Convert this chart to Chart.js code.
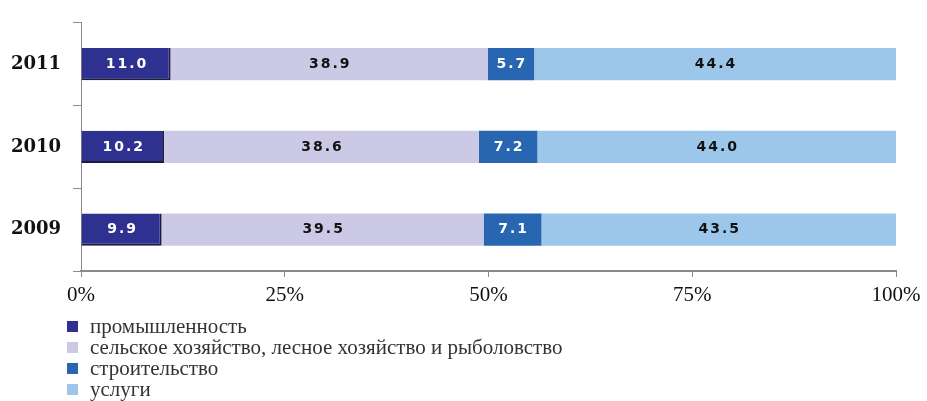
<!DOCTYPE html>
<html>
<head>
<meta charset="utf-8">
<script src="https://cdn.jsdelivr.net/npm/chart.js@4/dist/chart.umd.min.js"></script>
<style>
  html, body { margin: 0; padding: 0; background: #fff; }
  #wrap { position: relative; width: 927px; height: 401px; }
  #legend { position: absolute; left: 67px; top: 316px; font-family: "Liberation Serif", serif; font-size: 21px; color: #333; }
  #legend .item { display: flex; align-items: center; height: 21px; }
  #legend .box { width: 11px; height: 11px; margin-right: 12px; }
</style>
</head>
<body>
<div id="wrap">
  <canvas id="chart" width="927" height="401"></canvas>
  <div id="legend"></div>
</div>
<script>
const years = ['2011', '2010', '2009'];
const seriesNames = [
  'промышленность',
  'сельское хозяйство, лесное хозяйство и рыболовство',
  'строительство',
  'услуги'
];
const industry = [11.0, 10.2, 9.9];
const agriculture = [38.9, 38.6, 39.5];
const construction = [5.7, 7.2, 7.1];
const services = [44.4, 44.0, 43.5];
const xTicks = [0, 25, 50, 75, 100];

const colors = ['#2e3190', '#ccc9e7', '#2966b1', '#9dc7ea'];
const labelColors = ['#ffffff', '#111111', '#ffffff', '#111111'];

// value labels in the middle of each segment
const valueLabels = {
  id: 'valueLabels',
  afterDatasetsDraw(chart) {
    const ctx = chart.ctx;
    ctx.save();
    ctx.font = 'bold 14px "DejaVu Sans"';
    if ('letterSpacing' in ctx) ctx.letterSpacing = '2px';
    ctx.textAlign = 'center';
    ctx.textBaseline = 'middle';
    chart.data.datasets.forEach((ds, i) => {
      const meta = chart.getDatasetMeta(i);
      meta.data.forEach((bar, j) => {
        ctx.fillStyle = labelColors[i];
        ctx.fillText(ds.data[j].toFixed(1), (bar.x + bar.base) / 2 + 1, bar.y);
      });
    });
    ctx.restore();
  }
};

const seriesData = [industry, agriculture, construction, services];

const chart = new Chart(document.getElementById('chart'), {
  type: 'bar',
  data: {
    labels: years,
    datasets: seriesData.map((d, i) => ({
      label: seriesNames[i],
      data: d,
      backgroundColor: colors[i],
      borderColor: '#1b1b45',
      borderWidth: i === 0 ? { right: 2, bottom: 2, top: 0, left: 0 } : 0,
      barPercentage: 0.39,
      categoryPercentage: 1
    }))
  },
  options: {
    indexAxis: 'y',
    responsive: false,
    animation: false,
    layout: { padding: { top: 0, right: 31, bottom: 91, left: 0 } },
    plugins: {
      legend: { display: false },
      tooltip: { enabled: false }
    },
    scales: {
      x: {
        stacked: true,
        min: 0,
        max: 100,
        afterBuildTicks: (scale) => { scale.ticks = xTicks.map(v => ({ value: v })); },
        afterFit: (scale) => { scale.height = 39; },
        border: { color: '#8a8a8a', width: 2 },
        grid: { drawOnChartArea: false, tickLength: 6, color: '#8a8a8a', lineWidth: 1 },
        ticks: {
          callback: v => v + '%',
          padding: 6,
          color: '#111',
          font: { family: 'Liberation Serif', size: 21 }
        }
      },
      y: {
        stacked: true,
        afterFit: (scale) => { scale.width = 81; },
        border: { color: '#8a8a8a', width: 1 },
        grid: { drawOnChartArea: false, offset: true, tickLength: 8, color: '#8a8a8a' },
        ticks: {
          padding: 12,
          color: '#111',
          font: { family: 'DejaVu Serif', size: 18, weight: 'bold' }
        }
      }
    }
  },
  plugins: [valueLabels]
});

// vertical legend below the chart
const legendEl = document.getElementById('legend');
chart.data.datasets.forEach(ds => {
  const item = document.createElement('div');
  item.className = 'item';
  item.innerHTML = `<span class="box" style="background:${ds.backgroundColor}"></span><span>${ds.label}</span>`;
  legendEl.appendChild(item);
});
</script>
</body>
</html>
